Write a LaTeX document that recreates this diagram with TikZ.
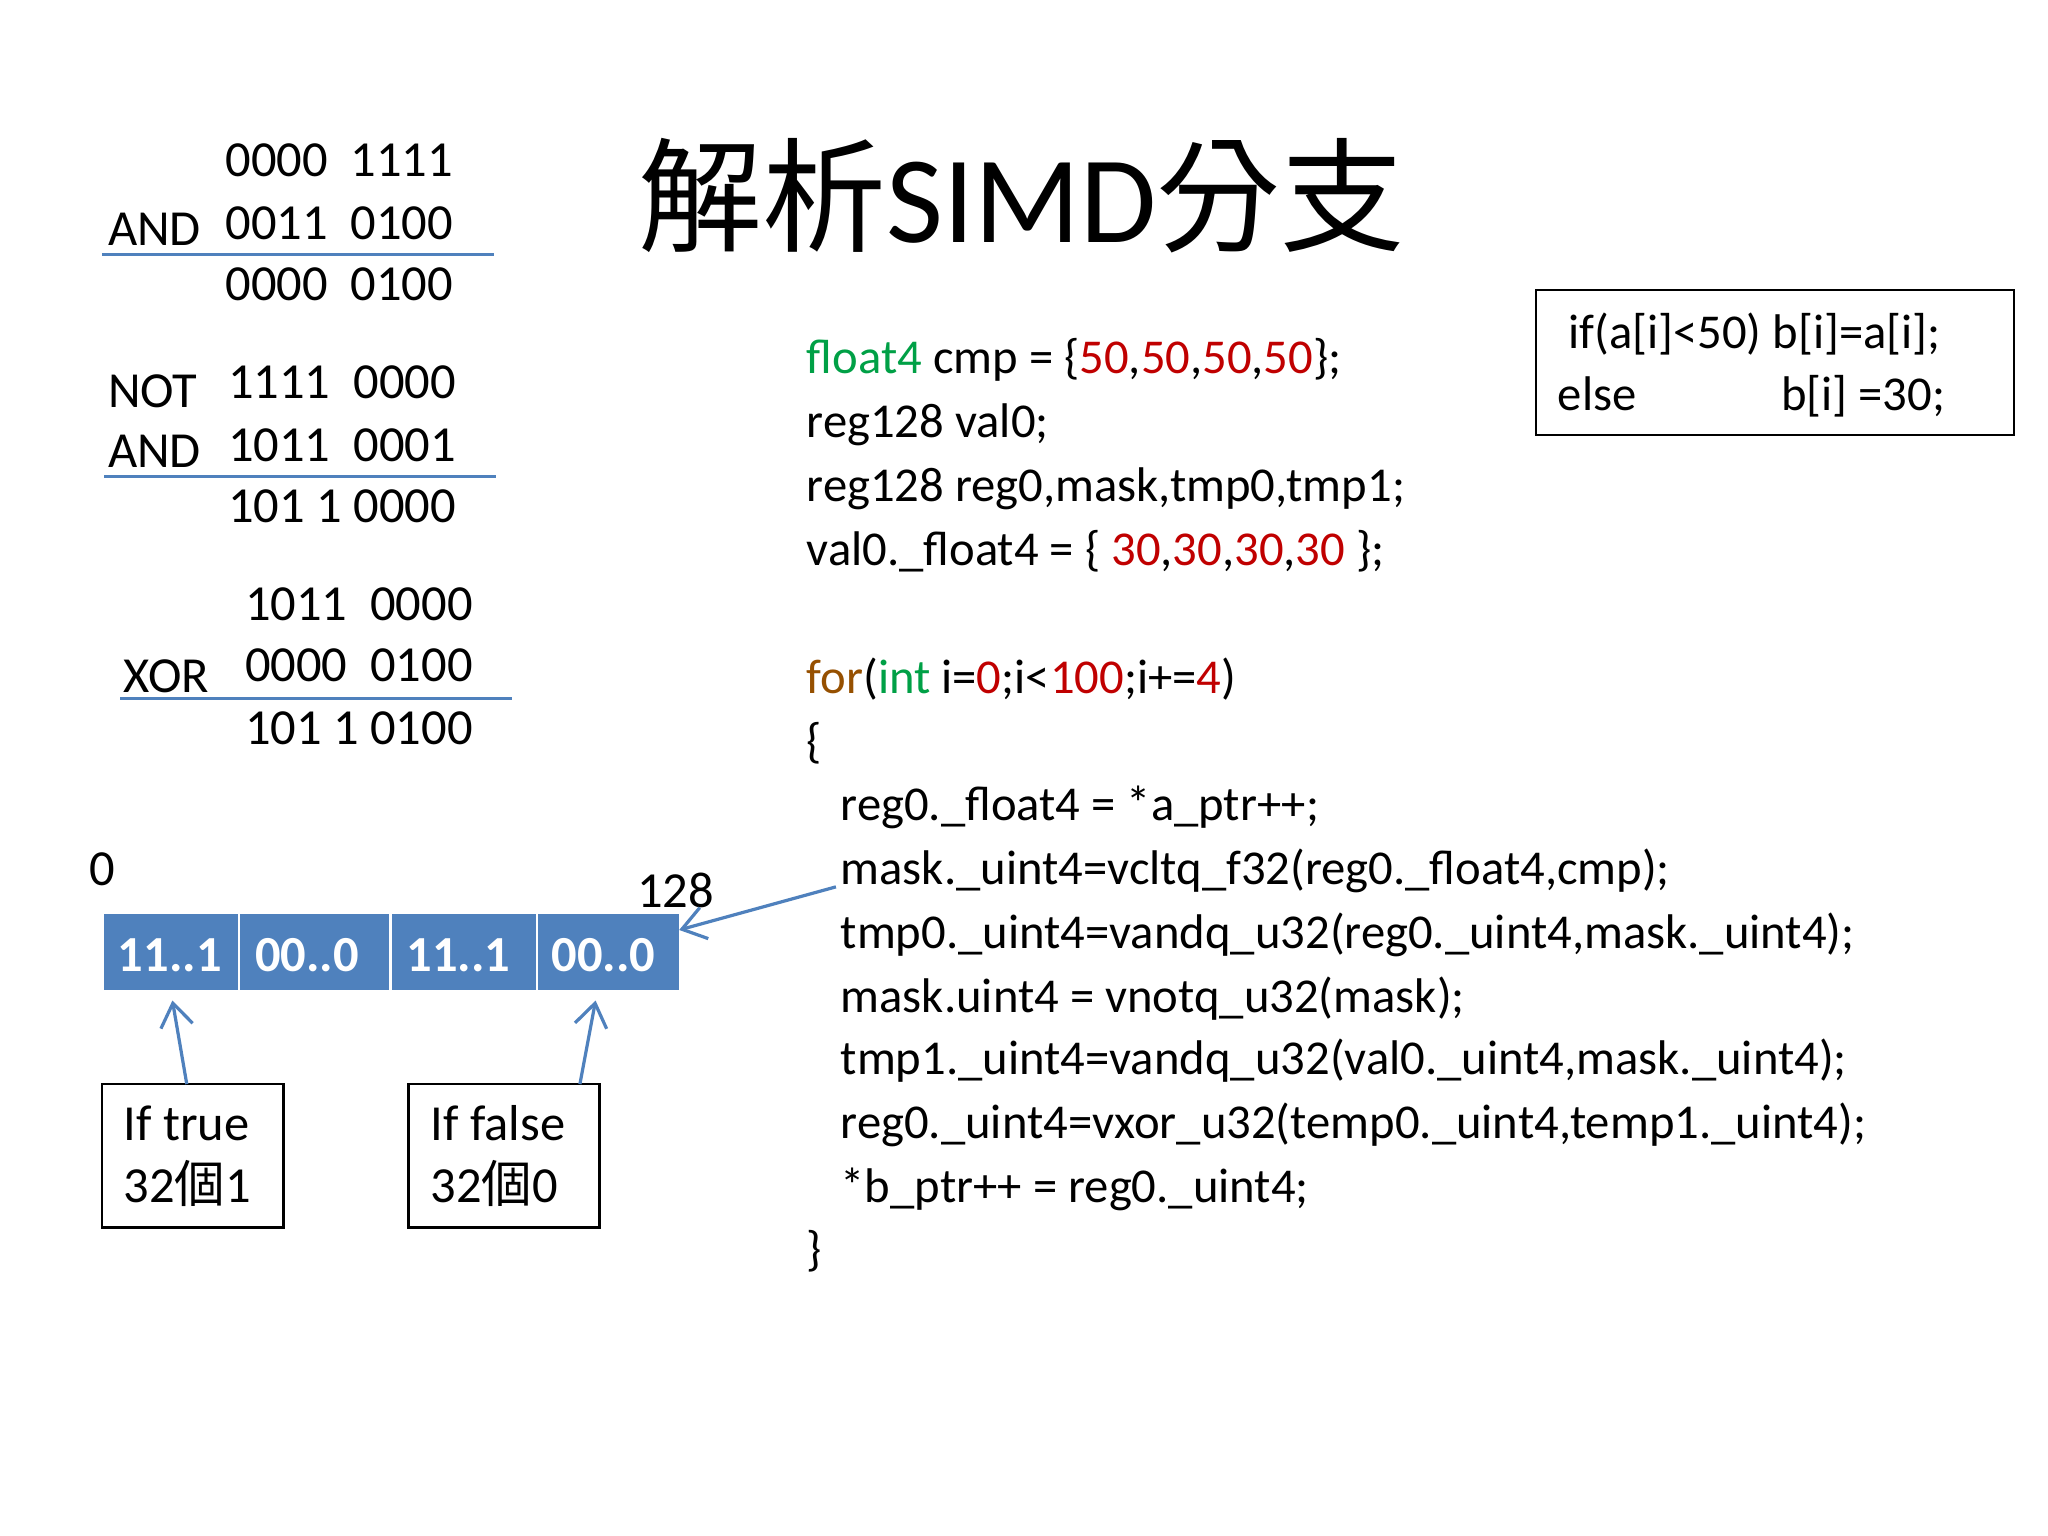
\documentclass[tikz,border=0pt]{standalone}
\usepackage{fontspec}
\setmainfont{Carlito}
\newfontfamily\cjk{Noto Sans CJK TC}
\usetikzlibrary{arrows.meta}
\definecolor{cgreen}{RGB}{0,160,70}
\definecolor{cred}{RGB}{192,0,0}
\definecolor{cbrown}{RGB}{150,80,0}
\definecolor{cblue}{RGB}{79,129,189}
\tikzset{
 t/.style={anchor=base west,inner sep=0pt,font=\fontsize{11}{13}\selectfont},
 c/.style={anchor=base west,inner sep=0pt,font=\fontsize{10.6}{13}\selectfont},
 rule/.style={draw=cblue,line width=0.6pt},
 cellfill/.style={fill=cblue},
 cell/.style={text=white,font=\fontsize{11}{13}\selectfont\bfseries,inner sep=0pt},
 bx/.style={draw,line width=0.6pt},
 arr/.style={draw=cblue,line width=0.7pt,-{Straight Barb[length=5pt,width=7pt]}}
}
\begin{document}
\begin{tikzpicture}[x=0.1mm,y=-0.1mm]
\useasboundingbox (0,0) rectangle (1568,1176);
\fill[white] (0,0) rectangle (1568,1176);
% left arithmetic
\node[t] (a1) at (172,135) {0000\ \ 1111};
\node[t] (a2) at (82,188) {AND};
\node[t] (a3) at (172,183) {0011\ \ 0100};
\draw[rule] (78,195) coordinate (l1a) -- (378,195) coordinate (l1b);
\node[t] (a4) at (172,230) {0000\ \ 0100};
\node[t] (b0) at (82,312) {NOT};
\node[t] (b1) at (174,305) {1111\ \ 0000};
\node[t] (b2) at (82,358) {AND};
\node[t] (b3) at (174,353) {1011\ \ 0001};
\draw[rule] (80,365) coordinate (l2a) -- (380,365) coordinate (l2b);
\node[t] (b4) at (174,400) {101 1 0000};
\node[t] (c1) at (187,475) {1011\ \ 0000};
\node[t] (c2) at (94,530) {XOR};
\node[t] (c3) at (187,522) {0000\ \ 0100};
\draw[rule] (92,535) coordinate (l3a) -- (392,535) coordinate (l3b);
\node[t] (c4) at (187,570) {101 1 0100};
% title
\node[anchor=base west,inner sep=0pt,font=\fontsize{27}{30}\selectfont] (title) at (488,186) {{\cjk 解析}SIMD{\cjk 分支}};
% top-right box
\draw[bx] (1176,222) rectangle (1542,333);
\node[c] (i1) at (1200,267) {if(a[i]<50) b[i]=a[i];};
\node[c] (i2) at (1192,314) {else};
\node[c] (i3) at (1363,314) {b[i] =30;};
% code
\node[c] (k1) at (617,286) {\textcolor{cgreen}{float4} cmp = \{\textcolor{cred}{50},\textcolor{cred}{50},\textcolor{cred}{50},\textcolor{cred}{50}\};};
\node[c] (k2) at (617,335) {reg128 val0;};
\node[c] (k3) at (617,384) {reg128 reg0,mask,tmp0,tmp1;};
\node[c] (k4) at (617,433) {val0.\_float4 = \{ \textcolor{cred}{30},\textcolor{cred}{30},\textcolor{cred}{30},\textcolor{cred}{30} \};};
\node[c] (k5) at (617,531) {\textcolor{cbrown}{for}(\textcolor{cgreen}{int} i=\textcolor{cred}{0};i<\textcolor{cred}{100};i+=\textcolor{cred}{4})};
\node[c] (k6) at (617,580) {\{};
\node[c] (k7) at (643,628) {reg0.\_float4 = *a\_ptr++;};
\node[c] (k8) at (643,677) {mask.\_uint4=vcltq\_f32(reg0.\_float4,cmp);};
\node[c] (k9) at (643,726) {tmp0.\_uint4=vandq\_u32(reg0.\_uint4,mask.\_uint4);};
\node[c] (k10) at (643,775) {mask.uint4 = vnotq\_u32(mask);};
\node[c] (k11) at (643,823) {tmp1.\_uint4=vandq\_u32(val0.\_uint4,mask.\_uint4);};
\node[c] (k12) at (643,872) {reg0.\_uint4=vxor\_u32(temp0.\_uint4,temp1.\_uint4);};
\node[c] (k13) at (643,921) {*b\_ptr++ = reg0.\_uint4;};
\node[c] (k14) at (617,969) {\}};
% bar
\node[t] (z0) at (68,678) {0};
\node[t] (z128) at (487,695) {128};
\fill[cellfill] (80,700) rectangle (182,758);
\fill[cellfill] (184,700) rectangle (298,758);
\fill[cellfill] (300,700) rectangle (410,758);
\fill[cellfill] (412,700) rectangle (520,758);
\node[cell] (r1) at (130,731) {11..1};
\node[cell] (r2) at (235,731) {00..0};
\node[cell] (r3) at (351,731) {11..1};
\node[cell] (r4) at (462,731) {00..0};
\coordinate (src) at (640,679);
\coordinate (dst) at (520,712);
\draw[arr] (src) -- (dst);
% boxes
\draw[bx] (78,830) rectangle (217,940);
\node[t] (tb1) at (94,873) {If true};
\node[t] (tb2) at (94,921) {32{\cjk 個}1};
\draw[bx] (313,830) rectangle (459,940);
\node[t] (fb1) at (329,873) {If false};
\node[t] (fb2) at (329,921) {32{\cjk 個}0};
\coordinate (tt) at (143,830);
\coordinate (ft) at (444,830);
\coordinate (th) at (132,766);
\coordinate (fh) at (456,766);
\draw[arr] (tt) -- (th);
\draw[arr] (ft) -- (fh);
\end{tikzpicture}
\end{document}
